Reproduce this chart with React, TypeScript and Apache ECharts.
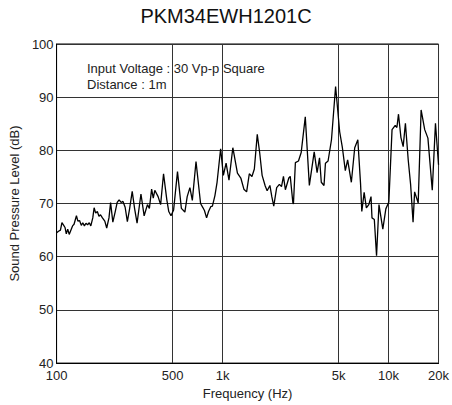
import React, { useEffect, useRef } from "react";
import * as echarts from "echarts";

const chartTitle = "PKM34EWH1201C";
const noteLines = ["Input Voltage : 30 Vp-p Square", "Distance : 1m"];
const xAxisName = "Frequency (Hz)";
const yAxisName = "Sound Pressure Level (dB)";
const xTickValues = [100, 500, 1000, 5000, 10000, 20000];
const xTickLabels = ["100", "500", "1k", "5k", "10k", "20k"];
const yMin = 40;
const yMax = 100;
const yStep = 10;

const freqHz = [
  100, 102.7, 105.5, 107.7, 109.9, 112.4, 114.4, 116.7, 119.1, 121.9,
  124.8, 127.4, 131.7, 134.4, 137.5, 140.9, 143.8, 147.1, 150.3, 153.8,
  157.3, 160.8, 165.2, 168.3, 172.0, 176.0, 180.0, 183.9, 188.9, 195.2,
  200.4, 206.8, 211.5, 218.2, 225.6, 231.8, 238.1, 244.6, 251.2, 258.8,
  266.9, 275.3, 285.5, 295.3, 305.4, 322.3, 336.9, 352.7, 362.3, 373.7,
  382.3, 390.6, 408.9, 423.4, 440.9, 461.5, 474.1, 488.9, 507.0, 535.1,
  564.7, 592.7, 612.1, 635.6, 657.3, 691.8, 737.0, 762.2, 777.7, 801.1,
  823.0, 848.8, 868.5, 899.4, 926.4, 973.5, 1011, 1050, 1093, 1153,
  1229, 1288, 1344, 1396, 1449, 1503, 1554, 1618, 1674, 1731,
  1807, 1856, 1928, 1980, 2034, 2118, 2199, 2265, 2327, 2390,
  2506, 2557, 2651, 2673, 2746, 2866, 2976, 3150, 3333, 3565,
  3711, 3838, 3933, 4084, 4167, 4321, 4530, 4797, 5076, 5271,
  5489, 5669, 5968, 6255, 6530, 6781, 6901, 7127, 7351, 7602,
  7841, 7947, 8208, 8466, 8755, 9237, 9630, 10040, 10496, 10972,
  11226, 11479, 11875, 12249, 12634, 13137, 13586, 14050, 14356, 15087,
  15709, 16512, 17263, 18338, 19171, 20000,
];

const splDb = [
  64.5, 64.8, 65.0, 66.4, 66.0, 65.5, 64.3, 65.2, 64.2, 65.0,
  65.8, 66.1, 67.7, 66.7, 66.8, 65.9, 66.4, 65.8, 66.3, 66.0,
  66.4, 65.8, 67.3, 69.2, 68.2, 68.5, 67.6, 67.9, 67.3, 66.7,
  65.4, 67.3, 70.2, 66.5, 68.5, 70.2, 70.7, 70.2, 70.4, 69.3,
  66.6, 69.0, 72.3, 69.0, 66.3, 71.8, 67.7, 69.8, 69.1, 72.7,
  71.0, 72.5, 71.3, 69.8, 75.6, 70.7, 68.5, 67.7, 68.8, 76.0,
  69.1, 68.4, 71.3, 73.0, 70.6, 77.9, 70.0, 69.2, 68.7, 67.3,
  68.5, 69.4, 69.5, 71.5, 74.0, 80.3, 75.3, 77.6, 74.4, 80.5,
  75.7, 74.8, 72.7, 72.2, 75.6, 75.1, 76.5, 83.0, 79.5, 75.3,
  73.3, 72.4, 73.4, 71.3, 69.5, 73.0, 73.6, 73.2, 75.1, 72.6,
  74.8, 75.1, 70.2, 69.9, 77.7, 78.0, 79.6, 86.3, 73.4, 79.7,
  75.8, 78.6, 74.0, 73.4, 77.6, 78.0, 82.0, 92.0, 83.5, 80.5,
  76.2, 78.2, 74.0, 80.5, 82.0, 73.7, 68.5, 72.1, 69.2, 69.8,
  71.3, 67.3, 67.0, 60.2, 69.8, 65.2, 69.0, 70.3, 83.9, 84.7,
  84.3, 86.8, 82.4, 80.7, 85.1, 78.2, 73.5, 66.5, 72.2, 70.1,
  87.6, 83.9, 82.3, 72.5, 85.1, 77.3,
];

const FONT = "Arial, 'Liberation Sans', Helvetica, sans-serif";

export default function App() {
  const ref = useRef<HTMLDivElement>(null);

  useEffect(() => {
    if (!ref.current) return;
    const chart = echarts.init(ref.current, null, { renderer: "svg" });
    const data = freqHz.map((f, i) => [f, splDb[i]]);
    const labelFor = (v: number) => {
      const i = xTickValues.findIndex(
        (t) => Math.abs(Math.log10(t) - Math.log10(v)) < 0.01
      );
      return i >= 0 ? xTickLabels[i] : "";
    };
    chart.setOption({
      animation: false,
      backgroundColor: "#ffffff",
      title: {
        text: chartTitle,
        left: "center",
        top: 1,
        textStyle: { fontFamily: FONT, fontSize: 20, fontWeight: "normal", color: "#111" },
      },
      grid: {
        left: 50,
        right: 8,
        top: 44,
        bottom: 35,
        show: true,
        borderColor: "#000",
        borderWidth: 1,
        backgroundColor: "transparent",
      },
      xAxis: {
        type: "log",
        logBase: 10,
        min: 100,
        max: 20000,
        name: xAxisName,
        nameLocation: "middle",
        nameGap: 15,
        nameTextStyle: { fontFamily: FONT, fontSize: 13, color: "#222" },
        axisLine: { show: true, lineStyle: { color: "#000", width: 1 } },
        axisTick: { show: false, customValues: xTickValues },
        axisLabel: {
          customValues: xTickValues,
          formatter: (v: number) => labelFor(v),
          margin: 7,
          fontFamily: FONT,
          fontSize: 13,
          lineHeight: 11,
          color: "#222",
          showMinLabel: true,
          showMaxLabel: true,
        },
        splitLine: { show: true, lineStyle: { color: "#333", width: 1 } },
        minorTick: { show: false },
        minorSplitLine: { show: false },
      },
      yAxis: {
        type: "value",
        min: yMin,
        max: yMax,
        interval: yStep,
        name: yAxisName,
        nameLocation: "middle",
        nameGap: 22,
        nameTextStyle: { fontFamily: FONT, fontSize: 13, color: "#222" },
        axisLine: { show: true, lineStyle: { color: "#000", width: 1 } },
        axisTick: { show: false },
        axisLabel: { margin: 3, fontFamily: FONT, fontSize: 13, lineHeight: 11, color: "#222" },
        splitLine: { show: true, lineStyle: { color: "#333", width: 1 } },
      },
      graphic: [
        {
          type: "text",
          left: 87,
          top: 60,
          style: {
            text: noteLines.join("\n"),
            font: `13px ${FONT}`,
            fill: "#222",
            lineHeight: 16,
          },
        },
      ],
      series: [
        {
          type: "line",
          data,
          showSymbol: false,
          symbol: "none",
          smooth: false,
          lineStyle: { color: "#000", width: 1.3 },
          clip: true,
        },
      ],
    });
    return () => chart.dispose();
  }, []);

  return (
    <div
      ref={ref}
      style={{ position: "fixed", left: 0, top: 0, width: 452, height: 405, background: "#fff" }}
    />
  );
}
